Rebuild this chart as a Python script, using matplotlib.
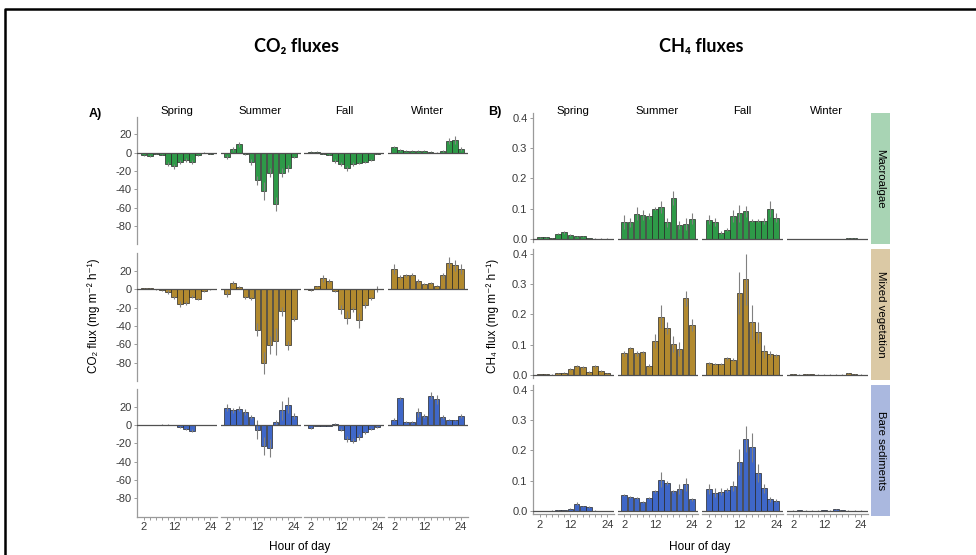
import numpy as np
import matplotlib.pyplot as plt
from matplotlib.lines import Line2D
from matplotlib.patches import Rectangle

plt.rcParams['font.family'] = ['Liberation Sans', 'DejaVu Sans']

hours = [2, 4, 6, 8, 10, 12, 14, 16, 18, 20, 22, 24]
hour_labels = ['2', '', '', '', '', '12', '', '', '', '', '', '24']
seasons = ['Spring', 'Summer', 'Fall', 'Winter']
habitats = ['Macroalgae', 'Mixed vegetation', 'Bare sediments']

# CO2 flux (mg m-2 h-1), rows = Spring, Summer, Fall, Winter
co2_macroalgae = [
    [-3, -4, -1, -2, -12, -15, -10, -8, -10, -3, 0, -1],
    [-5, 4, 9, -1, -10, -30, -42, -22, -56, -22, -17, -5],
    [1, 1, -1, -2, -9, -12, -17, -12, -11, -10, -8, -1],
    [6, 3, 2, 2, 2, 2, 1, 0, 2, 13, 14, 4],
]
co2_macroalgae_se = [
    [1, 1, 0.5, 0.5, 2, 3, 2, 2, 2, 1, 0.5, 0.5],
    [2, 2, 3, 1, 3, 5, 10, 5, 8, 5, 4, 1],
    [0.5, 0.5, 0.5, 0.5, 2, 2, 3, 2, 1, 1, 1, 0.5],
    [1, 1, 0.5, 0.5, 0.5, 0.5, 0.5, 0.5, 1, 3, 4, 2],
]
co2_mixed = [
    [1, 1, 0, -1, -3, -9, -16, -15, -8, -11, -2, 0],
    [-5, 7, 2, -9, -10, -44, -80, -61, -57, -24, -61, -32],
    [-1, 3, 12, 9, -2, -22, -31, -22, -34, -17, -10, 0],
    [22, 13, 15, 16, 9, 6, 7, 4, 15, 29, 26, 22],
]
co2_mixed_se = [
    [0.5, 0.5, 0.3, 0.5, 2, 2, 3, 2, 2, 1, 1, 0.5],
    [3, 2, 1, 2, 2, 7, 12, 10, 15, 5, 5, 3],
    [1, 1, 4, 2, 1, 5, 7, 3, 8, 3, 2, 3],
    [5, 2, 2, 2, 2, 1, 1, 1, 3, 6, 6, 5],
]
co2_bare = [
    [0, 0, 0, 0.5, 0.5, 0, -2, -4, -6, 0, 0, 0],
    [19, 16, 18, 14, 9, -5, -23, -25, 3, 16, 22, 10],
    [-3, -1, -1, -1, 1, -5, -15, -17, -13, -8, -4, -2],
    [6, 29, 3, 3, 14, 10, 32, 28, 9, 6, 5, 10],
]
co2_bare_se = [
    [0.2, 0.2, 0.2, 0.3, 0.3, 0.2, 1, 1, 2, 0.2, 0.2, 0.2],
    [4, 3, 3, 3, 2, 10, 10, 10, 3, 10, 9, 3],
    [1, 0.5, 0.5, 0.5, 1, 2, 3, 3, 3, 2, 1, 1],
    [2, 2, 1, 1, 5, 2, 4, 5, 2, 1, 1, 2],
]

# CH4 flux (mg m-2 h-1), rows = Spring, Summer, Fall, Winter
ch4_macroalgae = [
    [0.005, 0.005, 0.002, 0.018, 0.022, 0.013, 0.009, 0.009, 0.003, 0.001, 0.001, 0.001],
    [0.057, 0.055, 0.083, 0.078, 0.075, 0.100, 0.105, 0.055, 0.135, 0.047, 0.050, 0.067],
    [0.063, 0.057, 0.020, 0.030, 0.075, 0.085, 0.092, 0.060, 0.060, 0.060, 0.098, 0.070],
    [0.001, 0.001, 0.001, 0.001, 0.001, 0.001, 0.001, 0.001, 0.001, 0.002, 0.002, 0.001],
]
ch4_macroalgae_se = [
    [0.001, 0.001, 0.001, 0.003, 0.004, 0.002, 0.002, 0.002, 0.001, 0.001, 0.001, 0.001],
    [0.023, 0.015, 0.022, 0.017, 0.010, 0.005, 0.020, 0.015, 0.023, 0.013, 0.020, 0.018],
    [0.015, 0.013, 0.005, 0.005, 0.020, 0.028, 0.018, 0.005, 0.005, 0.010, 0.027, 0.015],
    [0.0005, 0.0005, 0.0005, 0.0005, 0.0005, 0.0005, 0.0005, 0.0005, 0.0005, 0.001, 0.001, 0.0005],
]
ch4_mixed = [
    [0.003, 0.002, 0.001, 0.006, 0.008, 0.020, 0.030, 0.025, 0.010, 0.028, 0.012, 0.005],
    [0.072, 0.088, 0.072, 0.075, 0.030, 0.112, 0.192, 0.155, 0.103, 0.087, 0.253, 0.165],
    [0.038, 0.035, 0.035, 0.055, 0.050, 0.270, 0.315, 0.175, 0.140, 0.078, 0.070, 0.065],
    [0.002, 0.001, 0.002, 0.003, 0.001, 0.001, 0.001, 0.001, 0.001, 0.005, 0.002, 0.001],
]
ch4_mixed_se = [
    [0.001, 0.001, 0.001, 0.002, 0.002, 0.004, 0.004, 0.004, 0.002, 0.004, 0.003, 0.002],
    [0.008, 0.004, 0.008, 0.005, 0.005, 0.023, 0.038, 0.020, 0.027, 0.023, 0.025, 0.020],
    [0.004, 0.003, 0.003, 0.005, 0.005, 0.070, 0.085, 0.055, 0.035, 0.022, 0.010, 0.005],
    [0.001, 0.001, 0.001, 0.001, 0.001, 0.001, 0.001, 0.001, 0.001, 0.002, 0.001, 0.001],
]
ch4_bare = [
    [0.000, 0.000, 0.001, 0.002, 0.003, 0.008, 0.024, 0.015, 0.013, 0.001, 0.000, 0.000],
    [0.052, 0.045, 0.042, 0.030, 0.043, 0.065, 0.103, 0.092, 0.065, 0.073, 0.088, 0.038],
    [0.073, 0.060, 0.063, 0.068, 0.083, 0.162, 0.237, 0.210, 0.125, 0.075, 0.038, 0.033],
    [0.001, 0.003, 0.001, 0.001, 0.001, 0.003, 0.001, 0.005, 0.003, 0.001, 0.001, 0.001],
]
ch4_bare_se = [
    [0.0005, 0.0005, 0.001, 0.001, 0.001, 0.002, 0.004, 0.003, 0.002, 0.001, 0.0005, 0.0005],
    [0.004, 0.003, 0.004, 0.003, 0.004, 0.005, 0.024, 0.008, 0.005, 0.017, 0.022, 0.004],
    [0.017, 0.015, 0.012, 0.007, 0.017, 0.043, 0.043, 0.048, 0.030, 0.015, 0.007, 0.005],
    [0.001, 0.001, 0.001, 0.001, 0.001, 0.001, 0.001, 0.001, 0.001, 0.001, 0.001, 0.001],
]

bar_colors = ['#2e9a48', '#b28a2f', '#3f67c8']
strip_colors = ['#a8d4b4', '#dbc9a5', '#aab8df']

W, H = 976, 555
fig = plt.figure(figsize=(W / 100, H / 100), dpi=100)


def px_axes(left, top, width, height):
    return fig.add_axes([left / W, 1 - (top + height) / H, width / W, height / H])


def ftext(x, y, s, **kw):
    fig.text(x / W, 1 - y / H, s, **kw)


def draw_panel(ax, vals, errs, color, ylim, yticks, ylabels, first_col, last_row):
    v = np.array(vals, dtype=float)
    e = np.array(errs, dtype=float)
    ax.bar(hours, v, width=1.85, color=color, edgecolor='#262626', linewidth=0.5, zorder=2)
    ax.vlines(hours, v - e, v + e, colors='#808080', lw=0.8, zorder=3)
    ax.axhline(0, color='#505050', lw=0.9, zorder=4)
    ax.set_xlim(-0.2, 26.2)
    ax.set_ylim(*ylim)
    ax.patch.set_alpha(0)
    for s in ['top', 'right']:
        ax.spines[s].set_visible(False)
    ax.spines['left'].set_visible(first_col)
    ax.spines['bottom'].set_visible(last_row)
    for s in ['left', 'bottom']:
        ax.spines[s].set_color('#9a9a9a')
        ax.spines[s].set_linewidth(0.9)
    ax.tick_params(length=2.5, width=0.7, color='#9a9a9a', labelsize=8,
                   labelcolor='#3a3a3a', pad=1.5)
    if first_col:
        ax.set_yticks(yticks)
        ax.set_yticklabels(ylabels)
    else:
        ax.set_yticks([])
    if last_row:
        ax.set_xticks(hours)
        ax.set_xticklabels(hour_labels)
    else:
        ax.set_xticks([])


# ---- CO2 panel ----
co2_data = [(co2_macroalgae, co2_macroalgae_se), (co2_mixed, co2_mixed_se), (co2_bare, co2_bare_se)]
co2_lefts = [137, 220.5, 304, 387.5]
co2_tops = [117, 253.5, 389.3]
for r, (vals, errs) in enumerate(co2_data):
    for c in range(4):
        ax = px_axes(co2_lefts[c], co2_tops[r], 80, 127.4)
        draw_panel(ax, vals[c], errs[c], bar_colors[r], (-100, 39),
                   [-80, -60, -40, -20, 0, 20], ['-80', '-60', '-40', '-20', '0', '20'],
                   c == 0, r == 2)
for c in range(4):
    ftext(co2_lefts[c] + 40, 111, seasons[c], ha='center', va='center', fontsize=8.2)

# ---- CH4 panel ----
ch4_data = [(ch4_macroalgae, ch4_macroalgae_se), (ch4_mixed, ch4_mixed_se), (ch4_bare, ch4_bare_se)]
ch4_lefts = [533, 617.5, 702, 786.5]
ch4_tops = [113, 249, 385]
for r, (vals, errs) in enumerate(ch4_data):
    for c in range(4):
        ax = px_axes(ch4_lefts[c], ch4_tops[r], 81, 129)
        draw_panel(ax, vals[c], errs[c], bar_colors[r], (-0.01, 0.415),
                   [0, 0.1, 0.2, 0.3, 0.4], ['0.0', '0.1', '0.2', '0.3', '0.4'],
                   c == 0, r == 2)
    sax = px_axes(871, ch4_tops[r], 19, 131)
    sax.axis('off')
    sax.add_patch(Rectangle((0, 0), 1, 1, transform=sax.transAxes, color=strip_colors[r]))
    sax.text(0.5, 0.5, habitats[r], rotation=270, ha='center', va='center',
             fontsize=8.2, transform=sax.transAxes)
for c in range(4):
    ftext(ch4_lefts[c] + 40, 111, seasons[c], ha='center', va='center', fontsize=8.2)

# ---- labels ----
ftext(95, 114, 'A)', fontsize=9, fontweight='bold', ha='center', va='center')
ftext(495, 112, 'B)', fontsize=9, fontweight='bold', ha='center', va='center')
ftext(94, 316, 'CO\u2082 flux (mg m\u207b\u00b2 h\u207b\u00b9)', rotation=90,
      ha='center', va='center', fontsize=8.5)
ftext(493, 316, 'CH\u2084 flux (mg m\u207b\u00b2 h\u207b\u00b9)', rotation=90,
      ha='center', va='center', fontsize=8.5)
ftext(300, 547, 'Hour of day', ha='center', va='center', fontsize=8.6)
ftext(700, 547, 'Hour of day', ha='center', va='center', fontsize=8.6)
ftext(296, 47, 'CO\u2082 fluxes', ha='center', va='center', fontsize=13,
      fontweight='bold', family=['Lato', 'DejaVu Sans'])
ftext(701, 47, 'CH\u2084 fluxes', ha='center', va='center', fontsize=13,
      fontweight='bold', family=['Lato', 'DejaVu Sans'])

# slide frame
fig.add_artist(Line2D([5 / W, 5 / W, 1.01], [-0.01, 1 - 9 / H, 1 - 9 / H],
                      transform=fig.transFigure, color='black', lw=1.8))

fig.savefig('out.png', dpi=100)
